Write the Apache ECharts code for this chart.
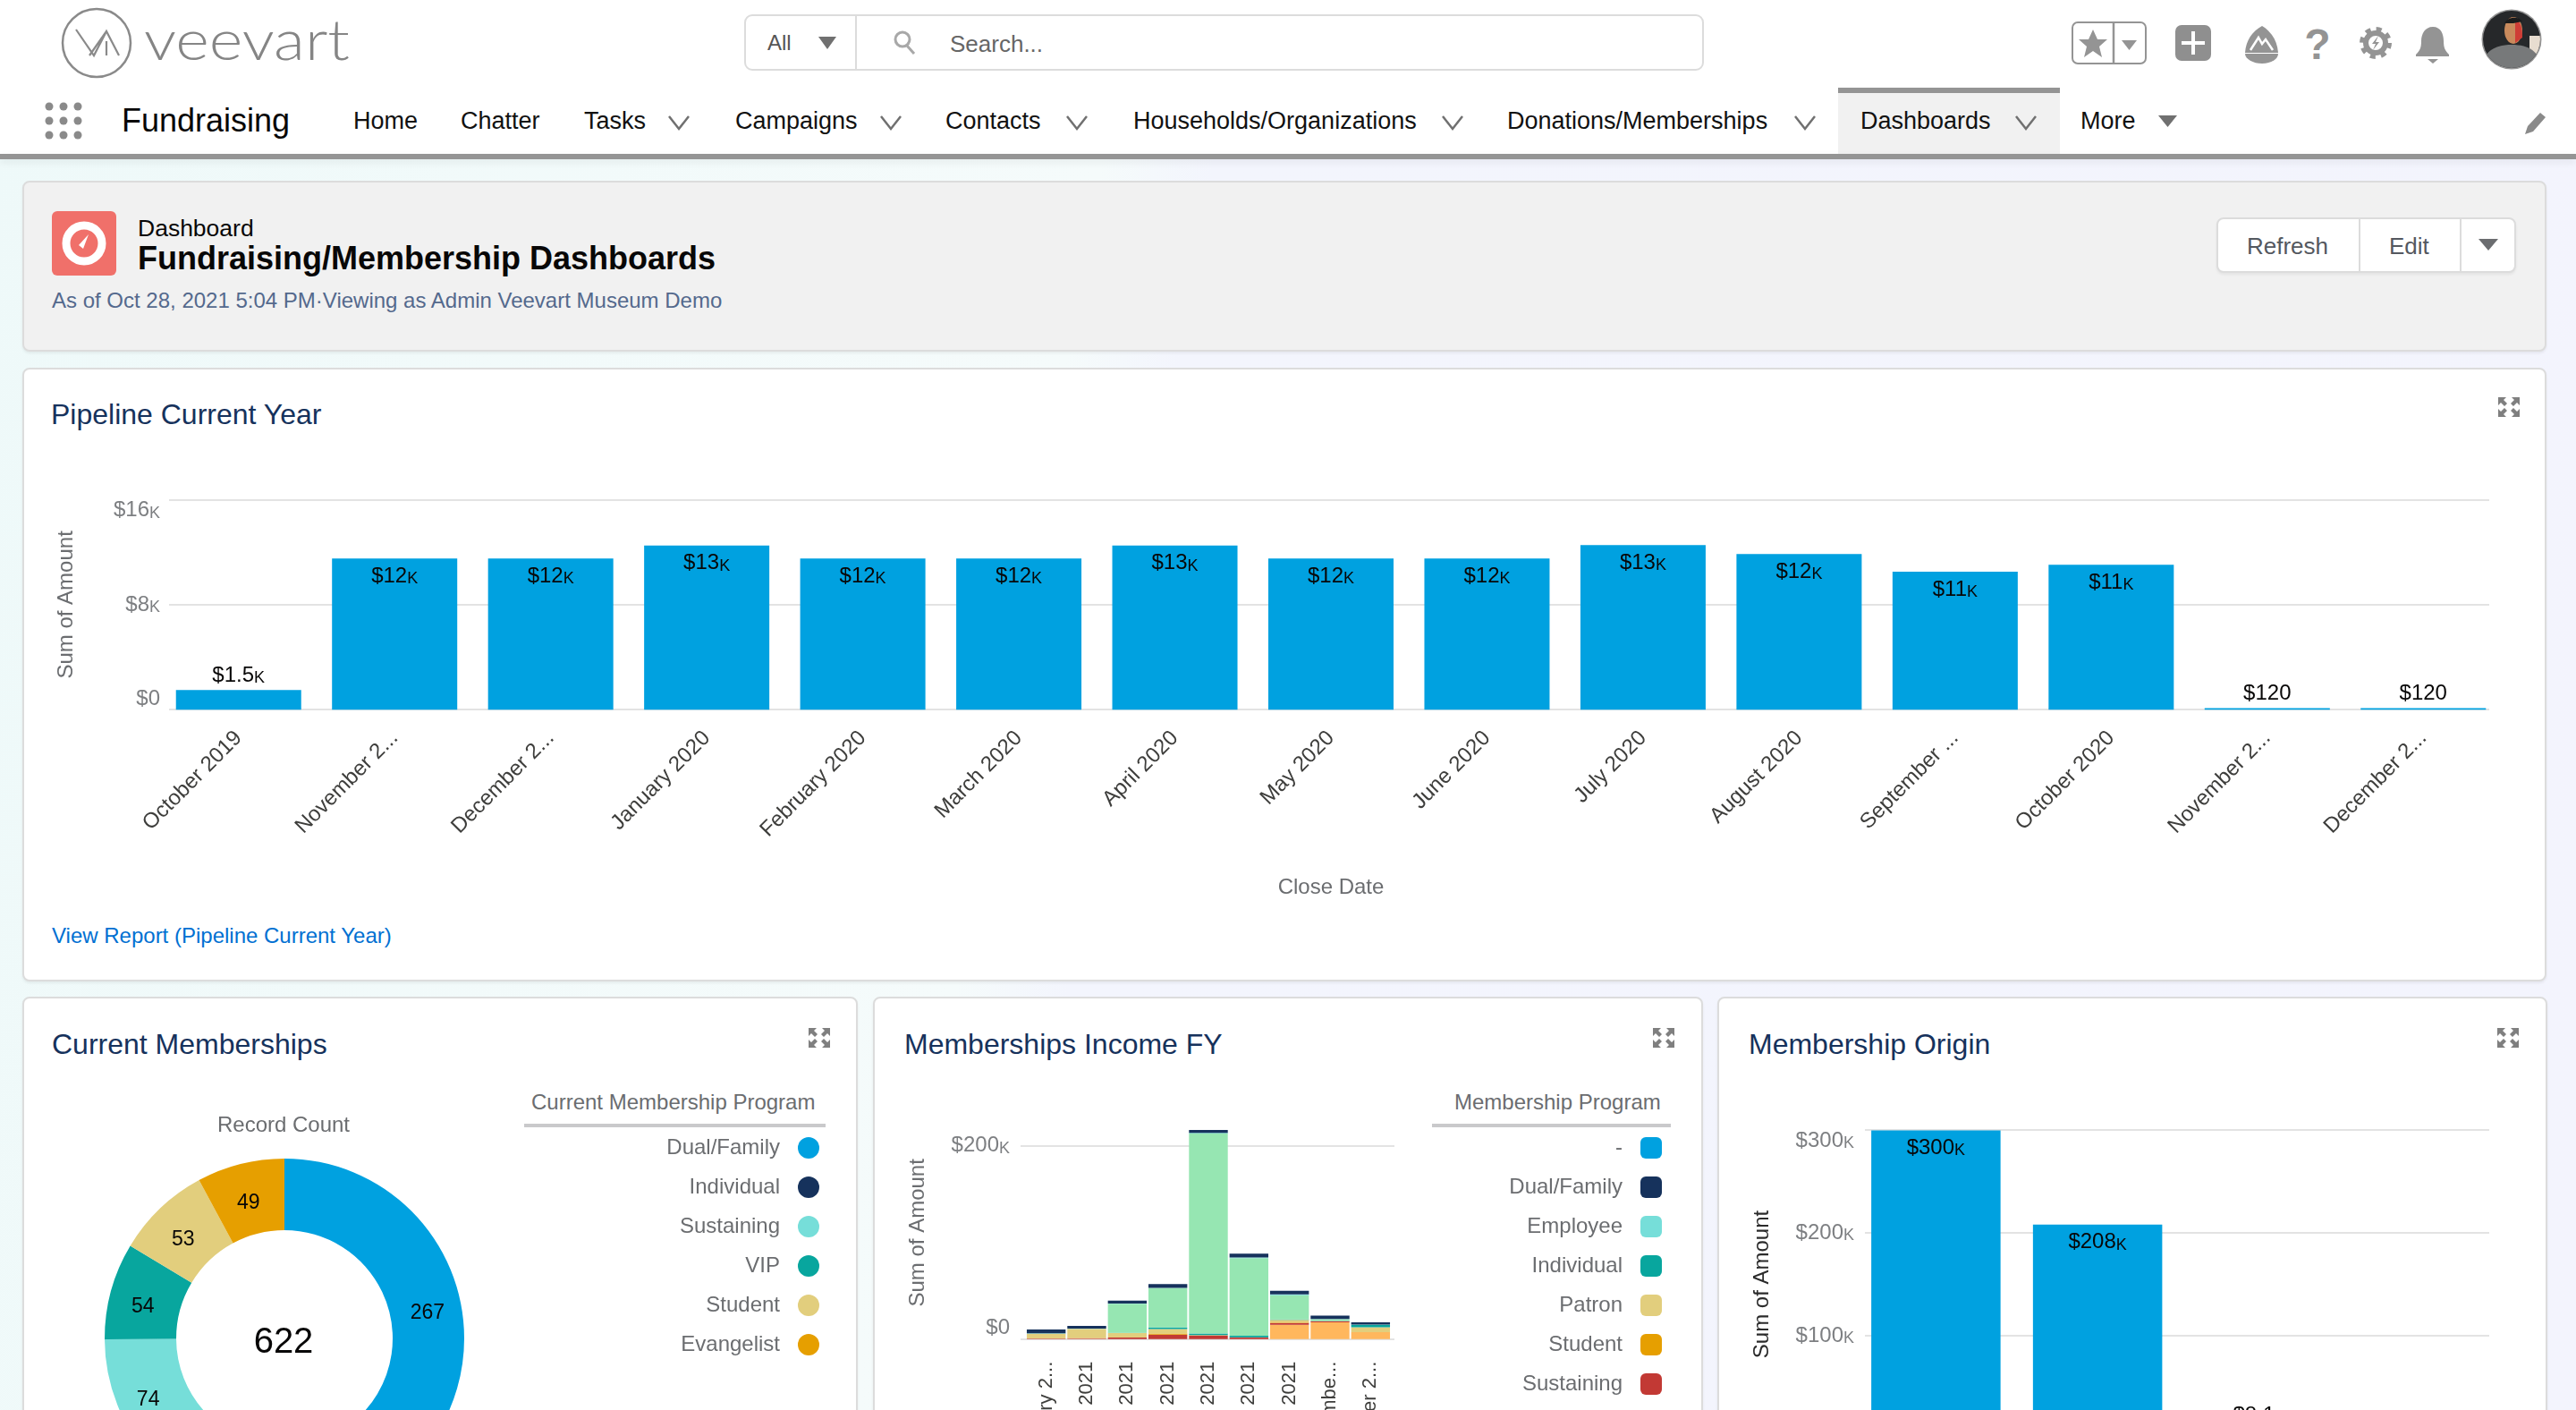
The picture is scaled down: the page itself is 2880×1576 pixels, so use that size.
<!DOCTYPE html>
<html>
<head>
<meta charset="utf-8">
<title>Fundraising/Membership Dashboards</title>
<script src="https://cdn.jsdelivr.net/npm/echarts@6/dist/echarts.min.js"></script>
<style>
html,body{margin:0;padding:0;width:2880px;height:1576px;overflow:hidden;font-family:"Liberation Sans",sans-serif}
#page{position:absolute;left:0;top:0;width:2880px;height:1576px;overflow:hidden;background:linear-gradient(100deg,#eef9f9 0,#f5fbfb 40%,#f3f5fd 44%,#f3f4fd 100%)}
#top{position:absolute;left:0;top:0;width:2880px;height:172px;background:#fff}
#topline{position:absolute;left:0;top:172px;width:2880px;height:6px;background:#949494;box-shadow:0 3px 8px rgba(0,0,0,.08)}
#tab{position:absolute;left:2055px;top:98px;width:248px;height:74px;background:#f1f1f1;border-top:6px solid #949494;box-sizing:border-box}
.t{position:absolute;white-space:nowrap;line-height:1;transform:translateY(-50%)}
.nav{font-size:27px;color:#111}
.card{position:absolute;box-sizing:border-box;background:#fff;border:2px solid #dcdcdc;border-radius:8px;box-shadow:0 2px 3px rgba(0,0,0,.06)}
.title{font-size:32px;color:#16325c}
.lh{font-size:24px;color:#6b6d70}
.rule{position:absolute;height:4px;background:#c9c9cb}
.chart{position:absolute;left:0;top:0;width:2880px;height:1576px}
svg.icons{position:absolute;left:0;top:0}
</style>
</head>
<body>
<div id="page">
  <div id="top"></div>
  <div id="tab"></div>
  <div id="topline"></div>

  <div class="t" style="left:858px;top:48px;font-size:24px;color:#555">All</div>
  <div class="t" style="left:1062px;top:49px;font-size:26px;color:#666">Search...</div>

  <div class="t" style="left:136px;top:135px;font-size:36px;color:#080707">Fundraising</div>
  <div class="t nav" style="left:395px;top:135px">Home</div>
  <div class="t nav" style="left:515px;top:135px">Chatter</div>
  <div class="t nav" style="left:653px;top:135px">Tasks</div>
  <div class="t nav" style="left:822px;top:135px">Campaigns</div>
  <div class="t nav" style="left:1057px;top:135px">Contacts</div>
  <div class="t nav" style="left:1267px;top:135px">Households/Organizations</div>
  <div class="t nav" style="left:1685px;top:135px">Donations/Memberships</div>
  <div class="t nav" style="left:2080px;top:135px">Dashboards</div>
  <div class="t nav" style="left:2326px;top:135px">More</div>

  <div class="card" style="left:25px;top:202px;width:2822px;height:191px;background:#f1f1f1"></div>
  <div class="t" style="left:154px;top:255px;font-size:26.500px;color:#080707">Dashboard</div>
  <div class="t" style="left:154px;top:289px;font-size:36px;font-weight:bold;color:#080707">Fundraising/Membership Dashboards</div>
  <div class="t" style="left:58px;top:336px;font-size:24px;color:#54698d">As of Oct 28, 2021 5:04 PM·Viewing as Admin Veevart Museum Demo</div>
  <div class="card" style="left:2478px;top:243px;width:335px;height:62px;background:#fff"></div>
  <div class="t" style="left:2512px;top:275px;font-size:26px;color:#54585f">Refresh</div>
  <div class="t" style="left:2671px;top:275px;font-size:26px;color:#54585f">Edit</div>

  <div class="card" style="left:25px;top:411px;width:2822px;height:686px"></div>
  <div class="t title" style="left:57px;top:463px">Pipeline Current Year</div>
  <div class="t" style="left:58px;top:1046px;font-size:24px;color:#0070d2">View Report (Pipeline Current Year)</div>

  <div class="card" style="left:25px;top:1114px;width:934px;height:600px"></div>
  <div class="t title" style="left:58px;top:1167px">Current Memberships</div>
  <div class="t lh" style="left:594px;top:1232px">Current Membership Program</div>
  <div class="rule" style="left:586px;top:1256px;width:337px"></div>

  <div class="card" style="left:976px;top:1114px;width:928px;height:600px"></div>
  <div class="t title" style="left:1011px;top:1167px">Memberships Income FY</div>
  <div class="t lh" style="left:1626px;top:1232px">Membership Program</div>
  <div class="rule" style="left:1601px;top:1256px;width:267px"></div>

  <div class="card" style="left:1920px;top:1114px;width:928px;height:600px"></div>
  <div class="t title" style="left:1955px;top:1167px">Membership Origin</div>

  <svg class="icons" width="2880" height="1576" viewBox="0 0 2880 1576">
    <defs>
      <clipPath id="av"><circle cx="2808" cy="44" r="32"/></clipPath>
      <g id="expand" fill="#7f7f7f">
        <path d="M-12-11h9l-3 3 4 4-3 3-4-4-3 3zM12-11v9l-3-3-4 4-3-3 4-4-3-3zM-12 11v-9l3 3 4-4 3 3-4 4 3 3zM12 11h-9l3-3-4-4 3-3 4 4 3-3z"/>
      </g>
      <path id="chev" d="M-11-7L0 7L11-7" fill="none" stroke="#707070" stroke-width="2.5"/>
    </defs>

    <!-- logo -->
    <ellipse cx="108" cy="48" rx="38" ry="38" fill="none" stroke="#8a8a8a" stroke-width="2.5"/>
    <path d="M85 33L105 62L119 35L133 62M100 62L119 35M119 46V62" fill="none" stroke="#8a8a8a" stroke-width="2.2"/>
    <text x="161" y="67" font-family="Lato" font-weight="300" font-size="64" fill="#858585" textLength="230" lengthAdjust="spacingAndGlyphs">veevart</text>

    <!-- search box -->
    <rect x="833" y="17" width="1071" height="61" rx="8" fill="none" stroke="#dcdcdc" stroke-width="2"/>
    <line x1="957" y1="17" x2="957" y2="78" stroke="#dcdcdc" stroke-width="2"/>
    <path d="M915 41h20l-10 14z" fill="#707070"/>
    <circle cx="1009" cy="44" r="8" fill="none" stroke="#a8a8a8" stroke-width="3"/>
    <line x1="1014" y1="51" x2="1022" y2="60" stroke="#a8a8a8" stroke-width="3"/>

    <!-- right icons -->
    <rect x="2317" y="25" width="82" height="46" rx="6" fill="#fff" stroke="#949494" stroke-width="2"/>
    <line x1="2363" y1="25" x2="2363" y2="71" stroke="#949494" stroke-width="2.5"/>
    <path d="M2340 33l5 11h11l-9 8 3 12-10-7-10 7 3-12-9-8h11z" fill="#949494"/>
    <path d="M2372 45h17l-8.500 11z" fill="#949494"/>
    <rect x="2432" y="28" width="40" height="40" rx="7" fill="#8f8f8f"/>
    <path d="M2452 35v26M2439 48h26" stroke="#fff" stroke-width="4"/>
    <path d="M2529 29c10 6 17 16 18 30h-37c1-14 8-24 19-30z" fill="#949494"/>
    <path d="M2516 56l9-14 4 7 4-5 8 12" fill="none" stroke="#fff" stroke-width="2.500"/>
    <path d="M2510 60h37c0 6-8 11-18 11s-19-5-19-11z" fill="#949494"/>
    <text x="2591" y="66" text-anchor="middle" font-size="48" font-weight="bold" fill="#949494" font-family="Liberation Sans">?</text>
    <circle cx="2656" cy="48" r="11" fill="none" stroke="#949494" stroke-width="6"/>
    <circle cx="2656" cy="48" r="15.500" fill="none" stroke="#949494" stroke-width="5" stroke-dasharray="6 6.200"/>
    <path d="M2659 40l-7 9h4l-3 7 7-9h-4z" fill="#949494"/>
    <path d="M2720 30c9 0 12 8 12 16 0 8 2 11 6 15v2h-37v-2c4-4 6-7 6-15 0-8 4-16 13-16z" fill="#949494"/>
    <path d="M2714 66h12l-6 5z" fill="#949494"/>
    <circle cx="2808" cy="44" r="33.500" fill="#949494"/>
    <g clip-path="url(#av)">
      <rect x="2776" y="12" width="64" height="64" fill="#26282a"/>
      <rect x="2828" y="40" width="12" height="20" fill="#e8ddd0"/>
      <path d="M2776 76c0-18 12-26 32-26s32 8 32 26z" fill="#77797a"/>
      <ellipse cx="2810" cy="34" rx="10" ry="15" fill="#c98a5c"/>
      <path d="M2812 22c6 2 8 8 8 20l-8 6z" fill="#cf3d36"/>
      <path d="M2800 26c4-8 16-8 20-2l-10 2z" fill="#1c1c1c"/>
    </g>

    <!-- nav -->
    <g fill="#8a8a8a">
      <circle cx="55" cy="119" r="4.500"/><circle cx="71" cy="119" r="4.500"/><circle cx="87" cy="119" r="4.500"/>
      <circle cx="55" cy="135" r="4.500"/><circle cx="71" cy="135" r="4.500"/><circle cx="87" cy="135" r="4.500"/>
      <circle cx="55" cy="151" r="4.500"/><circle cx="71" cy="151" r="4.500"/><circle cx="87" cy="151" r="4.500"/>
    </g>
    <use href="#chev" x="759" y="137"/>
    <use href="#chev" x="996" y="137"/>
    <use href="#chev" x="1204" y="137"/>
    <use href="#chev" x="1624" y="137"/>
    <use href="#chev" x="2018" y="137"/>
    <use href="#chev" x="2265" y="137"/>
    <path d="M2413 129h21l-10.500 13z" fill="#707070"/>
    <path d="M2840 126l6 5-14 16-9 3 3-9z" fill="#8a8a8a"/>

    <!-- dashboard header -->
    <rect x="58" y="236" width="72" height="72" rx="6" fill="#f0706a"/>
    <circle cx="94" cy="272" r="20" fill="none" stroke="#fff" stroke-width="9"/>
    <path d="M99 262l-6 16-5-4z" fill="#fff"/>
    <line x1="2638" y1="244" x2="2638" y2="304" stroke="#dcdcdc" stroke-width="2"/>
    <line x1="2751" y1="244" x2="2751" y2="304" stroke="#dcdcdc" stroke-width="2"/>
    <path d="M2771 267h22l-11 13z" fill="#6b6d70"/>

    <use href="#expand" x="2805" y="455"/>
    <use href="#expand" x="916" y="1160"/>
    <use href="#expand" x="1860" y="1160"/>
    <use href="#expand" x="2804" y="1160"/>
  </svg>

  <div class="chart" id="c1"></div>
  <div class="chart" id="c2"></div>
  <div class="chart" id="c3"></div>
  <div class="chart" id="c4"></div>
</div>

<script>
// pipeline current year
const pipelineMonths = ['October 2019','November 2...','December 2...','January 2020','February 2020','March 2020','April 2020','May 2020','June 2020','July 2020','August 2020','September ...','October 2020','November 2...','December 2...'];
const pipelineAmounts = [1500,11520,11520,12510,11520,11520,12510,11520,11520,12540,11860,10520,11040,120,120];

// current memberships
const programNames = ['Dual/Family','Individual','Sustaining','VIP','Student','Evangelist'];
const programCounts = [267,125,74,54,53,49];

// memberships income, bottom of the stack first
const incomeMonths = ['February 2...','March 2021','April 2021','May 2021','June 2021','July 2021','August 2021','Septembe...','October 2...'];
const incomeDash = [0,0,0,0,0,0,0,0,0];
const incomeDualFamily = [4000,2800,3100,4000,3100,4000,3700,3400,2200];
const incomeEmployee = [200,200,300,300,700,600,1100,200,200];
const incomeIndividual = [200,200,300,1500,1500,1600,400,200,2500];
const incomePatron = [4900,9300,4600,4600,300,0,2800,0,5200];
const incomeStudent = [0,300,0,1200,200,0,300,0,0];
const incomeSustaining = [300,600,1500,4600,3700,1900,1900,1200,0];
const incomeGreen = [0,0,30000,40700,206800,80200,25000,1900,0];
const incomePeach = [300,300,0,0,0,0,14800,17300,7100];
const incomeLegend = ['-','Dual/Family','Employee','Individual','Patron','Student','Sustaining'];

// membership origin (only three bars are in view)
const originCategories = ['','','',''];
const originAmounts = [299600,208000,8100,null];

const GREY = '#6b6d70';
const BLUE = '#00a1e0';
const GRID = '#e3e3e3';
const FONT = '"Liberation Sans"';

function money(v) {
    if (v >= 1000) {
        var k = v / 1000;
        k = k < 10 ? Math.round(k * 10) / 10 : Math.round(k);
        return '$' + k + '{k|K}';
    }
    return '$' + v;
}

function kRich(color) {
    return { k: { fontSize: 18, fontFamily: FONT, color: color, verticalAlign: 'bottom', lineHeight: 22 } };
}

// gridlines run a little past or short of the bar band, so the value axis and the bars sit in two grids
function barChart(el, cfg) {
    var height = cfg.bottom - cfg.top;
    var chart = echarts.init(document.getElementById(el));
    var option = {
        animation: false,
        textStyle: { fontFamily: FONT },
        grid: [
            { left: cfg.lineLeft, width: cfg.lineRight - cfg.lineLeft, top: cfg.top, height: height, outerBoundsMode: 'none' },
            { left: cfg.bandLeft, width: cfg.bandRight - cfg.bandLeft, top: cfg.top, height: height, outerBoundsMode: 'none' }
        ],
        xAxis: [
            { type: 'category', gridIndex: 0, data: cfg.categories, show: false },
            {
                type: 'category', gridIndex: 1, data: cfg.categories,
                axisLine: { show: false }, axisTick: { show: false },
                axisLabel: cfg.xLabel || { show: false },
                name: cfg.xName, nameLocation: 'middle', nameGap: cfg.xNameGap,
                nameTextStyle: { color: GREY, fontSize: 24 }
            }
        ],
        yAxis: [
            {
                type: 'value', gridIndex: 0, min: 0, max: cfg.max, interval: cfg.interval,
                axisLine: { show: false }, axisTick: { show: false },
                splitLine: { show: true, showMaxLine: cfg.showMaxLine, lineStyle: { color: GRID, width: 2 } },
                axisLabel: {
                    color: '#7d7f82', fontSize: 24, margin: cfg.labelMargin,
                    showMaxLabel: cfg.showMaxLine, hideOverlap: false,
                    verticalAlignMinLabel: 'bottom', verticalAlignMaxLabel: 'top',
                    formatter: money, rich: kRich('#7d7f82')
                },
                name: 'Sum of Amount', nameLocation: 'middle', nameRotate: 90, nameGap: cfg.yNameGap,
                nameTextStyle: { color: cfg.yNameColor || GREY, fontSize: 24 }
            },
            { type: 'value', gridIndex: 1, min: 0, max: cfg.max, show: false }
        ],
        legend: cfg.legend,
        series: cfg.series
    };
    chart.setOption(option);
    return chart;
}

function amountSeries(values, barWidth, threshold) {
    return [{
        type: 'bar', xAxisIndex: 1, yAxisIndex: 1, barWidth: barWidth,
        itemStyle: { color: BLUE },
        label: {
            show: true, color: '#080707', fontSize: 24,
            formatter: function (p) { return money(p.value); },
            rich: kRich('#080707')
        },
        data: values.map(function (v) {
            return v < threshold
                ? { value: v, label: { position: 'top', distance: 4 } }
                : { value: v, label: { position: 'insideTop', distance: 8 } };
        })
    }];
}

barChart('c1', {
    lineLeft: 189, lineRight: 2783, bandLeft: 179.500, bandRight: 2796.500, top: 558.600, bottom: 793.200,
    max: 16000, interval: 8000, showMaxLine: true, labelMargin: 10,
    categories: pipelineMonths,
    xLabel: { rotate: 45, color: '#3e3e3c', fontSize: 24, lineHeight: 48, margin: 28, interval: 0 },
    xName: 'Close Date', xNameGap: 187,
    yNameGap: 103,
    series: amountSeries(pipelineAmounts, 140, 2000)
});

var legendBase = {
    orient: 'vertical', align: 'right', itemWidth: 24, itemHeight: 24, itemGap: 20, top: 1266,
    selectedMode: false,
    textStyle: { color: GREY, fontSize: 24, padding: [0, 15, 0, 0] }
};

var pieChart = echarts.init(document.getElementById('c2'));
pieChart.setOption({
    animation: false,
    textStyle: { fontFamily: FONT },
    color: ['#00a1e0', '#16325c', '#76ded9', '#08a69e', '#e2ce7d', '#e69f00'],
    legend: Object.assign({}, legendBase, { right: 2880 - 921, icon: 'circle', data: programNames }),
    graphic: [
        { type: 'text', x: 317, y: 1258, style: { text: 'Record Count', fill: GREY, font: '24px ' + FONT, align: 'center', verticalAlign: 'middle' } },
        { type: 'text', x: 317, y: 1501, style: { text: String(programCounts.reduce(function (a, b) { return a + b; }, 0)), fill: '#080707', font: '40px ' + FONT, align: 'center', verticalAlign: 'middle' } }
    ],
    series: [{
        type: 'pie', radius: [121, 201], center: [318, 1496], startAngle: 90, clockwise: true,
        label: { position: 'inside', color: '#080707', fontSize: 23, formatter: '{c}', offset: [0, 8] },
        labelLine: { show: false },
        data: programNames.map(function (n, i) { return { name: n, value: programCounts[i] }; })
    }]
});

function stack(name, values, color) {
    return { name: name, type: 'bar', stack: 'income', xAxisIndex: 1, yAxisIndex: 1, barWidth: 43.400, itemStyle: { color: color }, data: values };
}

barChart('c3', {
    lineLeft: 1141, lineRight: 1559, bandLeft: 1147, bandRight: 1555, top: 1259, bottom: 1496.700,
    max: 220000, interval: 200000, showMaxLine: false, labelMargin: 12,
    categories: incomeMonths,
    xLabel: { rotate: 90, color: '#3e3e3c', fontSize: 22, margin: 25, interval: 0 },
    yNameGap: 103,
    legend: Object.assign({}, legendBase, { right: 2880 - 1863, icon: 'roundRect', data: incomeLegend }),
    series: [
        stack('Other programs', incomePeach, '#ffb75d'),
        stack('Sustaining', incomeSustaining, '#c23934'),
        stack('Student', incomeStudent, '#e69f00'),
        stack('Patron', incomePatron, '#e2ce7d'),
        stack('Individual', incomeIndividual, '#08a69e'),
        stack('Recurring', incomeGreen, '#96e6b2'),
        stack('Employee', incomeEmployee, '#76ded9'),
        stack('Dual/Family', incomeDualFamily, '#16325c'),
        stack('-', incomeDash, '#00a1e0')
    ]
});

barChart('c4', {
    lineLeft: 2085, lineRight: 2783, bandLeft: 2074, bandRight: 2797, top: 1263, bottom: 1608,
    max: 300000, interval: 100000, showMaxLine: true, labelMargin: 12,
    categories: originCategories,
    yNameGap: 103, yNameColor: '#2b2b2b',
    series: amountSeries(originAmounts, 144.500, 20000)
});
</script>
</body>
</html>
